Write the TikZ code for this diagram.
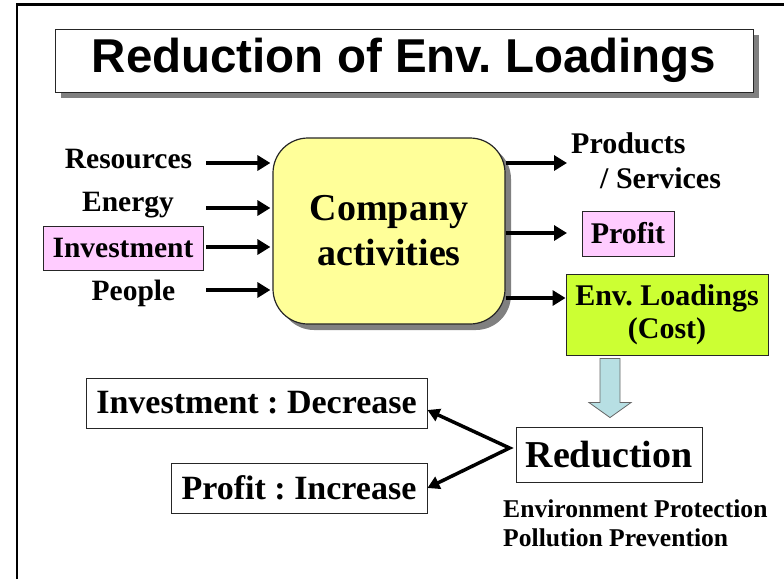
\documentclass[tikz,border=0pt]{standalone}
\usepackage{fontspec}
\setmainfont{Liberation Serif}
\setsansfont{Liberation Sans}
\usetikzlibrary{arrows.meta,shadows}
\frenchspacing

\definecolor{actyellow}{HTML}{FFFF99}
\definecolor{markpink}{HTML}{FFCCFF}
\definecolor{loadgreen}{HTML}{CCFF33}
\definecolor{downblue}{HTML}{B7DFE3}
\definecolor{shadowgray}{HTML}{808080}

\tikzset{
  box/.style={draw=black!85,line width=0.9pt,inner sep=0pt,font=\bfseries},
  shade6/.style={general shadow={fill=shadowgray,shadow xshift=6pt,shadow yshift=-6pt}},
  inlabel/.style={inner sep=0pt,anchor=base,font=\bfseries\fontsize{29.5}{34}\selectfont},
  flow/.style={line width=4pt,-{Triangle[length=13pt,width=15pt]}},
  split/.style={line width=3.5pt,line join=miter,
    {Triangle[length=12pt,width=13pt]}-{Triangle[length=12pt,width=13pt]}},
  downarrow/.style={draw=black!60,line width=0.8pt,fill=downblue}
}

\begin{document}
\begin{tikzpicture}[x=1pt,y=-1pt]
\useasboundingbox (0,0) rectangle (784,579);
\draw[line width=2.5pt] (17,579) -- (17,4.5) -- (790,4.5);

% title
\node[box,shade6,fill=white,minimum width=698pt,minimum height=63pt,
  font=\sffamily\bfseries\fontsize{47.5}{57}\selectfont] (title) at (404,60.5) {Reduction of Env. Loadings};

% inputs
\node[box,shade6,fill=actyellow,rounded corners=35pt,line width=1.2pt,
  minimum width=232pt,minimum height=186pt,align=center,
  font=\bfseries\fontsize{38}{45}\selectfont] (company) at (389,231) {Company\\activities};
\node[inlabel] (res) at (128.5,168) {Resources};
\node[inlabel] (energy) at (128,211) {Energy};
\node[box,fill=markpink,minimum width=160pt,minimum height=44pt,
  font=\bfseries\fontsize{29.5}{34}\selectfont] (invest) at (123,248) {Investment};
\node[inlabel] (people) at (133.5,300) {People};

\coordinate (in1) at (206,163);
\coordinate (in2) at (206,208);
\coordinate (in3) at (206,247);
\coordinate (in4) at (206,290);
\foreach \c in {in1,in2,in3,in4}
  \draw[flow,shorten >=2pt] (\c) -- (\c -| company.west);

% outputs
\node[inner sep=0pt,anchor=north west,align=left,
  font=\bfseries\fontsize{30}{35}\selectfont] (products) at (571,132.5) {Products\\\hspace*{29pt}/ Services};
\node[box,fill=markpink,minimum width=92pt,minimum height=45pt,
  font=\bfseries\fontsize{30}{34}\selectfont] (profit) at (628,233.5) {Profit};
\node[box,fill=loadgreen,minimum width=202pt,minimum height=81pt,align=center,
  font=\bfseries\fontsize{30}{33}\selectfont] (envload) at (667,314.5) {Env. Loadings\\(Cost)};

\coordinate (out1) at (567,163);
\coordinate (out2) at (567,233);
\coordinate (out3) at (566,298);
\draw[flow] (company.east |- out1) -- (out1);
\draw[flow] (company.east |- out2) -- (out2);
\draw[flow] (company.east |- out3) -- (envload.west |- out3);

% reduction
\node[box,fill=white,minimum width=186pt,minimum height=55pt,
  font=\bfseries\fontsize{38}{44}\selectfont] (reduce) at (609,454.5) {Reduction};
\node[inner sep=0pt,anchor=north west,align=left,
  font=\bfseries\fontsize{25.6}{29.5}\selectfont] (measures) at (503,499.5) {Environment Protection\\Pollution Prevention};
\draw[downarrow] ([xshift=1pt,yshift=9pt]reduce.north) -- ++(21,-15) -- ++(-11,0) -- ++(0,-44)
  -- ++(-20,0) -- ++(0,44) -- ++(-11,0) -- cycle;

\node[box,fill=white,minimum width=341pt,minimum height=50pt,
  font=\bfseries\fontsize{34}{40}\selectfont] (invdec) at (256.5,403) {Investment : Decrease};
\node[box,fill=white,minimum width=256pt,minimum height=50pt,
  font=\bfseries\fontsize{34}{40}\selectfont] (profinc) at (299,488) {Profit : Increase};

\coordinate (fork) at ([xshift=-6pt,yshift=6.5pt]reduce.west);
\draw[split] ([yshift=-7pt]invdec.east) -- (fork) -- (profinc.east);
\end{tikzpicture}
\end{document}
